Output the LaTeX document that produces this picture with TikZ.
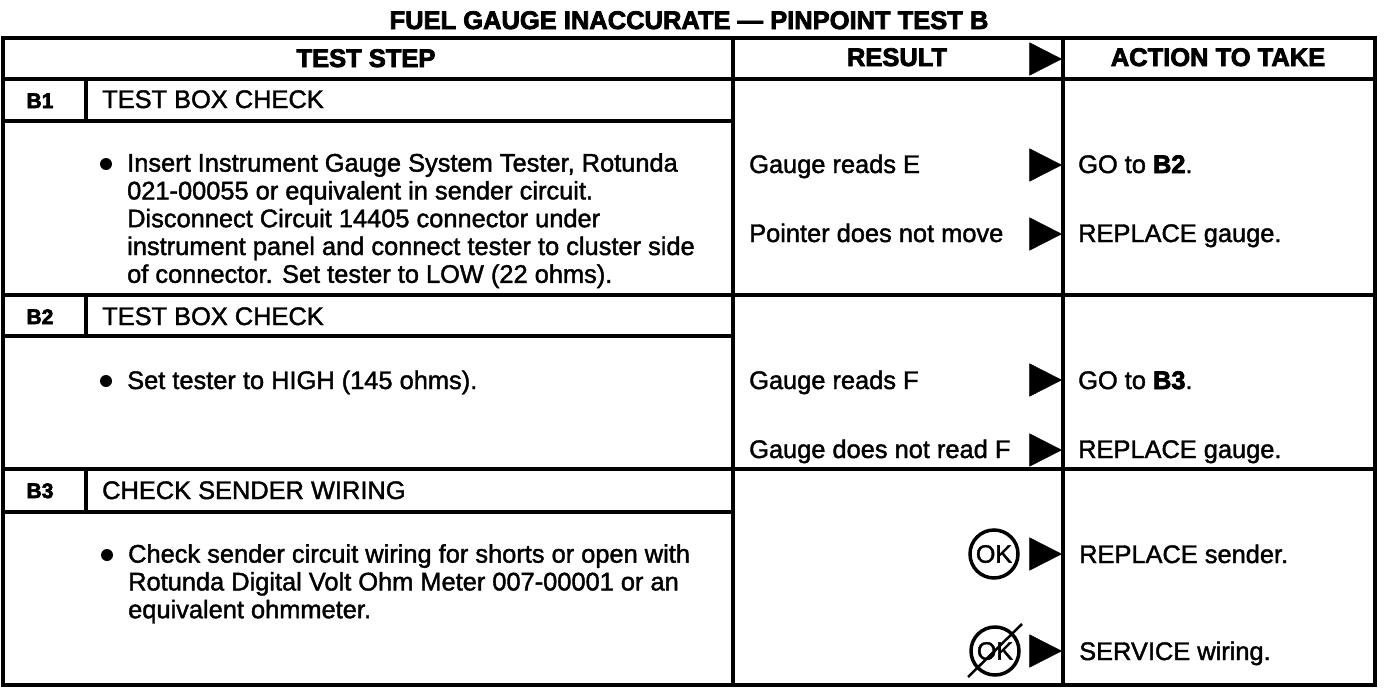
\documentclass[tikz,border=0pt]{standalone}
\usepackage{fontspec}
\setmainfont[RawFeature={embolden=1.6}, BoldFont={Liberation Sans Bold}, BoldFeatures={RawFeature={embolden=3}}]{Liberation Sans}
\usetikzlibrary{positioning, shapes.geometric}
\tikzset{
  cell/.style = { anchor = base west, inner sep = 0pt, font = \fontsize{25.4}{27.8}\selectfont },
  block/.style = { anchor = north west, align = left, inner sep = 0pt, font = \fontsize{25.4}{27.8}\selectfont },
  head/.style = { anchor = base, inner sep = 0pt, font = \fontsize{25.5}{27.8}\selectfont\bfseries },
  tag/.style = { anchor = base, inner sep = 0pt, font = \fontsize{21}{27.8}\selectfont\bfseries },
  marker/.style = { draw, fill, shape = isosceles triangle, isosceles triangle apex angle = 54, inner sep = 0pt, minimum height = 32pt, minimum width = 31pt, anchor = apex },
  okmark/.style = { draw, line width = 3.5pt, shape = circle, inner sep = 0pt, minimum size = 48pt, font = \fontsize{25}{27.8}\selectfont },
  blob/.style = { fill, shape = circle, inner sep = 0pt, minimum size = 12pt },
  rule/.style = { line width = 4pt }
}
\begin{document}
\begin{tikzpicture}[x=1pt,y=-1pt]
    \useasboundingbox (0,0) rectangle (1392,688);
    \node [head] (title) at (689,29) {FUEL GAUGE INACCURATE --- PINPOINT TEST B};
    % table frame
    \draw [rule] (3,38) rectangle (1375,685);
    \draw [rule] (3,79) -- (1375,79);
    \draw [rule] (733,38) -- (733,685);
    \draw [rule] (1063,38) -- (1063,685);
    \draw [rule] (3,295) -- (1375,295);
    \draw [rule] (3,469) -- (1375,469);
    \draw [rule] (3,121) -- (733,121);
    \draw [rule] (3,336) -- (733,336);
    \draw [rule] (3,512) -- (733,512);
    \draw [rule] (86,79) -- (86,121);
    \draw [rule] (86,295) -- (86,336);
    \draw [rule] (86,469) -- (86,512);
    % heads
    \node [head] (teststep) at (366,67) {TEST STEP};
    \node [head] (result) at (897,66) {RESULT};
    \node [head] (action) at (1218,66) {ACTION TO TAKE};
    \node [marker] (m0) at (1062,59) {};
    % B1
    \node [tag] (b1) at (40,108) {B1};
    \node [cell] (b1t) at (102,108) {TEST BOX CHECK};
    \node [blob] (b1d) at (106,164) {};
    \node [block] (b1x) at (127,153) {Insert Instrument Gauge System Tester, Rotunda\\ 021-00055 or equivalent in sender circuit.\\ Disconnect Circuit 14405 connector under\\ instrument panel and connect tester to cluster side\\ of connector. Set tester to LOW (22 ohms).};
    \node [cell] (r1) at (749,173) {Gauge reads E};
    \node [cell] (r2) at (749,242) {Pointer does not move};
    \node [marker] (m1) at (1062,165) {};
    \node [marker] (m2) at (1062,234) {};
    \node [cell] (a1) at (1078,173) {GO to \textbf{B2}.};
    \node [cell] (a2) at (1078,242) {REPLACE gauge.};
    % B2
    \node [tag] (b2) at (40,324) {B2};
    \node [cell] (b2t) at (102,325) {TEST BOX CHECK};
    \node [blob] (b2d) at (106,381) {};
    \node [cell] (b2x) at (127,389) {Set tester to HIGH (145 ohms).};
    \node [cell] (r3) at (749,389) {Gauge reads F};
    \node [cell] (r4) at (749,458) {Gauge does not read F};
    \node [marker] (m3) at (1062,380) {};
    \node [marker] (m4) at (1062,450) {};
    \node [cell] (a3) at (1078,389) {GO to \textbf{B3}.};
    \node [cell] (a4) at (1078,458) {REPLACE gauge.};
    % B3
    \node [tag] (b3) at (40,498) {B3};
    \node [cell] (b3t) at (102,499) {CHECK SENDER WIRING};
    \node [blob] (b3d) at (107,555) {};
    \node [block] (b3x) at (128,544) {Check sender circuit wiring for shorts or open with\\ Rotunda Digital Volt Ohm Meter 007-00001 or an\\ equivalent ohmmeter.};
    \node [okmark] (ok1) at (994,554) {OK};
    \node [okmark] (ok2) at (995,651) {OK};
    \coordinate (s1) at (968,677);
    \coordinate (s2) at (1022,624);
    \draw [line width = 2.5pt] (s1) -- (s2);
    \node [marker] (m5) at (1062,554) {};
    \node [marker] (m6) at (1062,651) {};
    \node [cell] (a5) at (1079,563) {REPLACE sender.};
    \node [cell] (a6) at (1079,660) {SERVICE wiring.};
\end{tikzpicture}
\end{document}
